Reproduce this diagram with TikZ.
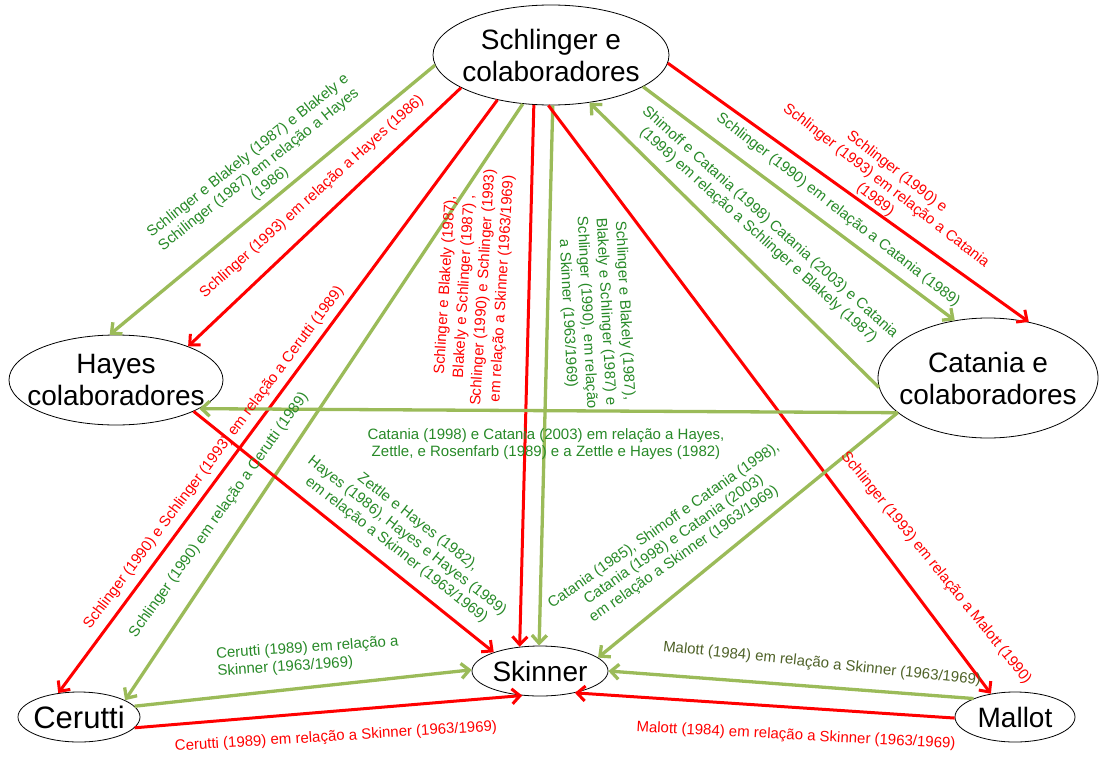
\documentclass[tikz,border=0pt]{standalone}
\usepackage{fontspec}
\setmainfont{Liberation Sans}
\usetikzlibrary{arrows.meta,shapes.geometric}
\definecolor{lgreen}{RGB}{155,187,89}
\definecolor{lred}{RGB}{255,0,0}
\definecolor{tgreen}{RGB}{40,138,40}
\definecolor{tolive}{RGB}{79,98,40}
\begin{document}
\begin{tikzpicture}[x=1pt,y=-1pt,
  ell/.style={ellipse, draw=black, line width=0.8pt, fill=white, inner sep=0pt},
  big/.style={font=\fontsize{28}{32}\selectfont, align=center, inner sep=0pt},
  lab/.style={font=\fontsize{15}{17.5}\selectfont, align=center, inner sep=0pt},
  vlab/.style={font=\fontsize{15}{19}\selectfont, align=center, inner sep=0pt},
  tipb/.style={-{Straight Barb[length=8pt,width=15pt]}},
  gline/.style={draw=lgreen, line width=3.3pt, tipb},
  rline/.style={draw=lred, line width=3pt, tipb},
  gtxt/.style={lab, text=tgreen},
  rtxt/.style={lab, text=lred}
]
\useasboundingbox[fill=white] (0,0) rectangle (1102,760);

% nodes
\node[ell, minimum width=236pt, minimum height=100pt,
  label={[big]center:{Schlinger e\\colaboradores}}] (sch) at (551,55) {};
\node[ell, minimum width=214pt, minimum height=90pt,
  label={[big]center:{Hayes\\colaboradores}}] (hay) at (116,380) {};
\node[ell, minimum width=220pt, minimum height=120pt,
  label={[big]center:{Catania e\\colaboradores}}] (cat) at (988,378) {};
\node[ell, minimum width=136pt, minimum height=50pt,
  label={[big]center:{Skinner}}] (ski) at (540,671) {};
\node[ell, minimum width=122pt, minimum height=50pt,
  label={[big, font=\fontsize{31}{34}\selectfont]center:{Cerutti}}] (cer) at (79,717) {};
\node[ell, minimum width=120pt, minimum height=50pt,
  label={[big]center:{Mallot}}] (mal) at (1015,717) {};

% connectors
\draw[gline] (sch.185.5) -- (hay.98.5);
\draw[rline] (sch.200.6) -- (hay.25.9);
\draw[rline] (sch.220.2) -- (cer.131.2);
\draw[gline] (sch.240.3) -- (cer.20.7);
\draw[rline] (sch.251.2) -- (ski.130);
\draw[gline] (sch.272.3) -- (ski.92.3);
\draw[rline] (sch.267.7) -- (mal.136.2);
\draw[gline] (cat.185.4) -- (sch.309.1);
\draw[gline] (sch.341.9) -- (cat.120.5);
\draw[rline] (sch.356.6) -- (cat.54.2);
\draw[gline] (cat.201.4) -- (hay.-19.9);
\draw[gline] (cat.201.4) -- (ski.13.6);
\draw[rline] (hay.-22.8) -- (ski.158.4);
\draw[gline] (cer.11.3) -- (ski.179.2);
\draw[rline] (cer.-11.3) -- (ski.234.7);
\draw[gline] (mal.156.8) -- (ski.0);
\draw[rline] (mal.181) -- (ski.-32.2);

% labels
\node[gtxt, rotate=38.5] (l1) at (259,170) {Schlinger e Blakely (1987) e Blakely e\\Schilinger (1987)  em relação a  Hayes\\(1986)};
\node[rtxt, rotate=42] (l2) at (312,197) {Schlinger (1993) em relação a  Hayes (1986)};
\node[rtxt, rotate=53.2] (l3) at (214,458) {Schlinger (1990) e Schlinger (1993) em relação a Cerutti (1989)};
\node[gtxt, rotate=54.5] (l4) at (219,515) {Schlinger (1990) em relação a Cerutti (1989)};
\node[vlab, text=lred, rotate=86.5] (l5) at (474,287) {Schlinger e Blakely (1987),\\Blakely e Schlinger (1987) ,\\Schlinger (1990) e Schlinger (1993)\\em relação a  Skinner (1963/1969)};
\node[vlab, text=tgreen, rotate=-87] (l6) at (596,312) {Schlinger e Blakely (1987),\\Blakely e Schlinger (1987)  e\\Schlinger (1990), em relação\\a  Skinner (1963/1969)};
\node[rtxt, rotate=-51] (l7) at (936,568) {Schlinger (1993) em relação a  Malott (1990)};
\node[gtxt, rotate=-42] (l8) at (764,229) {Shimoff e Catania (1998)  Catania (2003) e Catania\\(1998) em relação a  Schlinger e Blakely (1987)};
\node[gtxt, rotate=-38] (l9) at (838,210) {Schlinger (1990) em relação a Catania (1989)};
\node[rtxt, rotate=-38] (l10) at (886,186) {Schlinger (1990) e\\Schlinger (1993) em relação a Catania\\(1989)};
\node[gtxt] (l11) at (546,444) {Catania (1998) e Catania (2003) em relação a Hayes,\\Zettle, e Rosenfarb (1989) e a  Zettle e Hayes (1982)};
\node[gtxt, rotate=35] (l12) at (674,540) {Catania (1985), Shimoff e Catania (1998),\\Catania (1998) e Catania (2003)\\em relação a Skinner (1963/1969)};
\node[gtxt, rotate=-38] (l13) at (407,536) {Zettle e Hayes (1982),\\Hayes (1986), Hayes e Hayes (1989)\\em relação a Skinner (1963/1969)};
\node[gtxt, align=left, rotate=4] (l14) at (308,657) {Cerutti (1989) em relação a\\Skinner (1963/1969)};
\node[rtxt, rotate=3.6] (l15) at (336,737) {Cerutti (1989) em relação a  Skinner (1963/1969)};
\node[lab, text=tolive, rotate=-6] (l16) at (822,664) {Malott (1984) em relação a  Skinner (1963/1969)};
\node[rtxt, rotate=-3] (l17) at (796,736) {Malott (1984) em relação a  Skinner (1963/1969)};
\end{tikzpicture}
\end{document}
